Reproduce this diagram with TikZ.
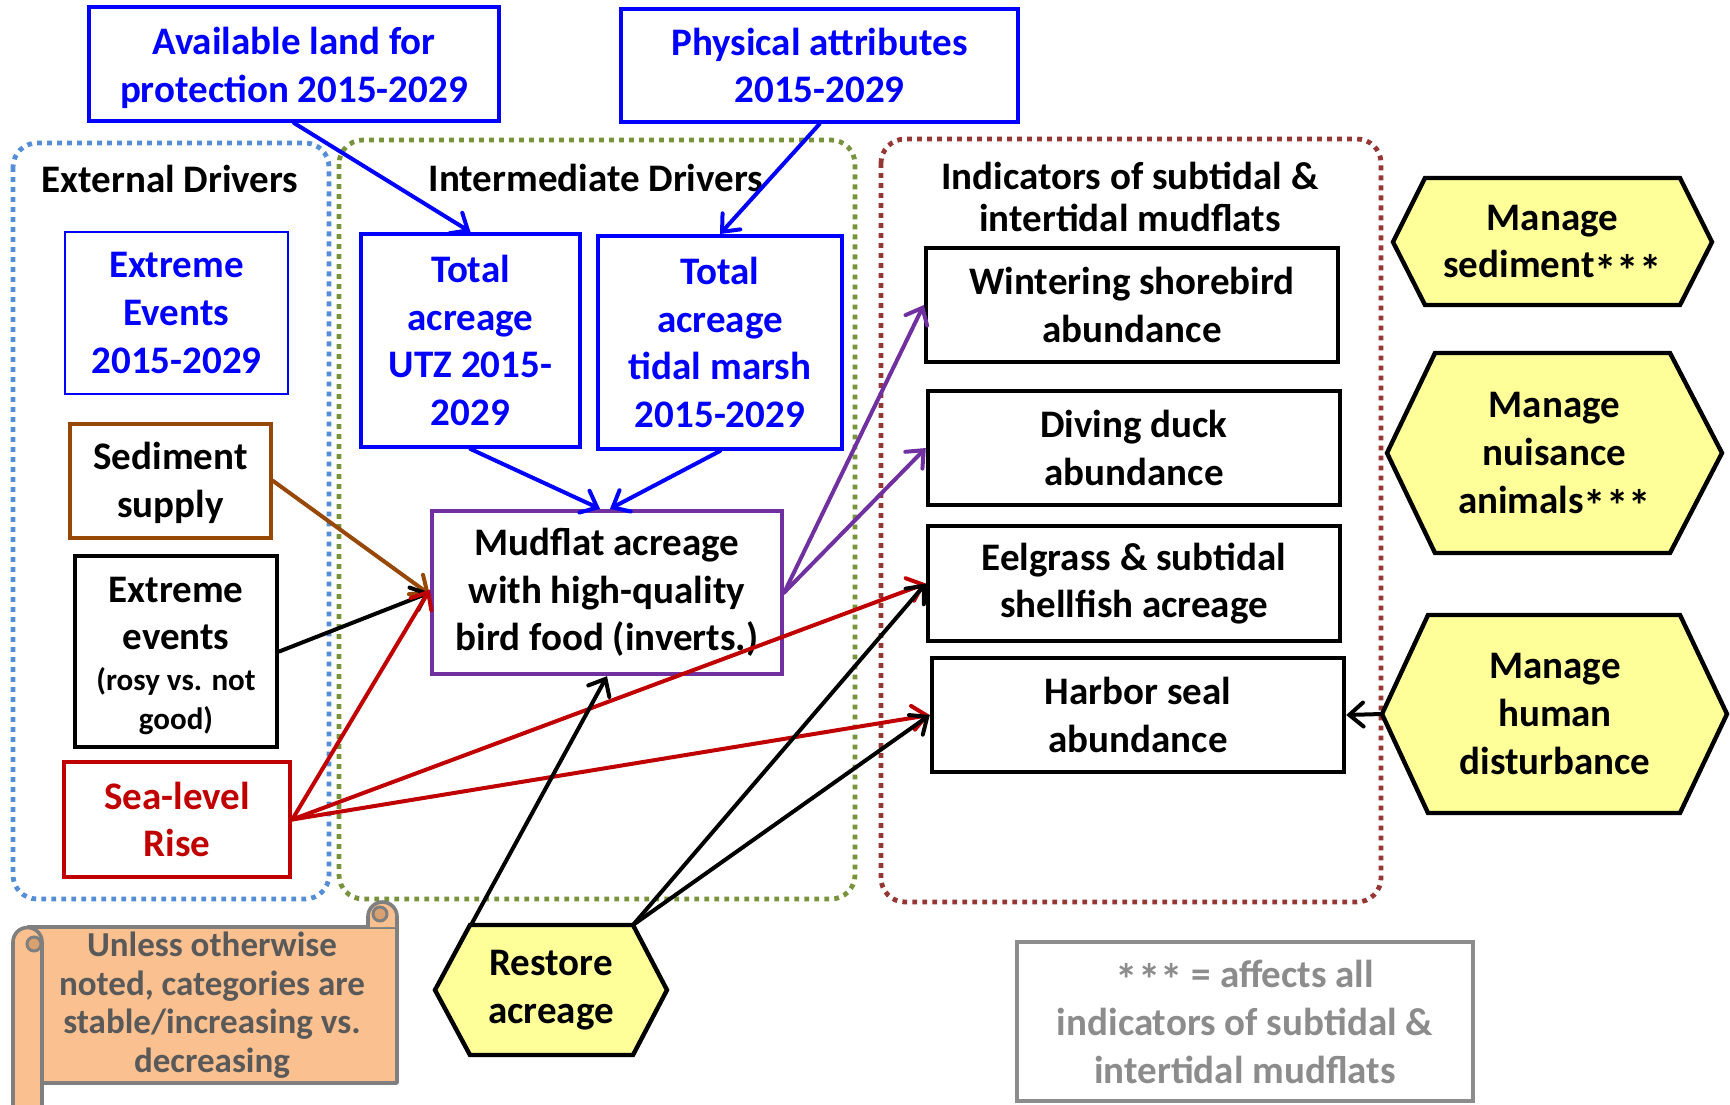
\documentclass[tikz,border=0pt]{standalone}
\usepackage{fontspec}
\setmainfont{Carlito}
\usetikzlibrary{arrows.meta}
\definecolor{cblue}{RGB}{0,0,255}
\definecolor{cbrown}{HTML}{974706}
\definecolor{cred}{HTML}{C00000}
\definecolor{cpurple}{HTML}{7030A0}
\definecolor{extdot}{HTML}{558ED5}
\definecolor{intdot}{HTML}{77933C}
\definecolor{inddot}{HTML}{953735}
\definecolor{hexyellow}{HTML}{FFFF99}
\definecolor{scrollfill}{HTML}{FAC090}
\definecolor{scrollcurl}{HTML}{D9A070}
\definecolor{scrollline}{HTML}{7F7F7F}
\definecolor{scrolltext}{HTML}{595959}
\definecolor{notegray}{HTML}{8C8C8C}
\newcommand{\stars}{\raisebox{-0.22em}[0pt][0pt]{\scalebox{1.15}{***}}}
\begin{document}
\begin{tikzpicture}[x=0.5pt,y=-0.5pt,
  lbl/.style={font=\bfseries\fontsize{19.5}{23.8}\selectfont, align=center, inner sep=0pt},
  box/.style={lbl, draw, fill=white, line width=2.2pt},
  bluebox/.style={box, draw=cblue, text=cblue, line width=2pt},
  grp/.style={line width=2.4pt, dash pattern=on 2.4pt off 2.6pt, rounded corners=12pt},
  conn/.style={line width=2pt, line cap=round, -{Straight Barb[length=7pt,width=12pt,line cap=round]}},
  hexa/.style={draw=black, fill=hexyellow, line width=2.2pt, line join=miter},
  scrollst/.style={draw=scrollline, fill=scrollfill, line width=1.8pt, line join=round}
]
\useasboundingbox (0,0) rectangle (1730,1104);

% groups
\draw[grp, draw=extdot] (13,143) rectangle (329,899);
\draw[grp, draw=intdot] (339,140) rectangle (855,899);
\draw[grp, draw=inddot] (881,139) rectangle (1381,902);

% group titles
\node[lbl] (tExt) at (170,179) {External Drivers};
\node[lbl] (tInt) at (596,178) {Intermediate Drivers};
\node[lbl, font=\bfseries\fontsize{19.5}{21}\selectfont] (tInd) at (1130,196.5) {Indicators of subtidal \&\\intertidal mudflats};

% top boxes
\node[bluebox, minimum width=205pt, minimum height=57pt] (avail) at (294,64) {};
\node[lbl, text=cblue] (availtxt) at (294,68) {Available land for\\protection 2015-2029};
\node[bluebox, minimum width=198.5pt, minimum height=56.5pt] (phys) at (819.5,65.5) {Physical attributes\\2015-2029};

% external drivers
\node[bluebox, line width=1pt, minimum width=111.5pt, minimum height=81pt] (extEv) at (176.5,313) {Extreme\\Events\\2015-2029};
\node[box, draw=cbrown, minimum width=100.5pt, minimum height=57pt] (sed) at (170.5,481) {};
\node[lbl] (sedtxt) at (170.5,483) {Sediment\\supply};
\node[box, minimum width=101pt, minimum height=95.5pt] (ext2) at (176,651.5) {};
\node[lbl] (ext2txt) at (176,656) {Extreme\\events\\[-3.3pt]\fontsize{15.5}{18.8}\selectfont (rosy vs. not\\[-4.4pt]\fontsize{15.5}{18.8}\selectfont good)};
\node[box, draw=cred, text=cred, minimum width=113pt, minimum height=57.5pt] (slr) at (177,819.5) {Sea-level\\Rise};

% intermediate drivers
\node[bluebox, minimum width=109.5pt, minimum height=106.5pt] (utz) at (470.5,340.5) {Total\\acreage\\UTZ 2015-\\2029};
\node[bluebox, minimum width=122pt, minimum height=106.5pt] (marsh) at (720,342.5) {Total\\acreage\\tidal marsh\\2015-2029};
\node[box, draw=cpurple, minimum width=175pt, minimum height=81.5pt] (mud) at (607,592.5) {Mudflat acreage\\with high-quality\\bird food (inverts.)};

% indicators
\node[box, minimum width=206pt, minimum height=57pt] (wint) at (1132,305) {Wintering shorebird\\abundance};
\node[box, minimum width=206pt, minimum height=57pt] (dive) at (1134,448) {Diving duck\\abundance};
\node[box, minimum width=206pt, minimum height=57.5pt] (eel) at (1134,583.5) {Eelgrass \& subtidal\\shellfish acreage};
\node[box, minimum width=206pt, minimum height=57pt] (harb) at (1138,715) {Harbor seal\\abundance};

% hexagons
\draw[hexa] (1393,242) -- (1425,178) -- (1680,178) -- (1712,242) -- (1680,305) -- (1425,305) -- cycle;
\node[lbl] (msed) at (1552.5,241.5) {Manage\\sediment\stars};
\draw[hexa] (1387,453) -- (1435,353) -- (1670,353) -- (1722,453) -- (1670,553) -- (1435,553) -- cycle;
\node[lbl] (mnuis) at (1554.5,453) {Manage\\nuisance\\animals\stars};
\draw[hexa] (1382,714) -- (1428,615) -- (1680,615) -- (1727,714) -- (1680,813) -- (1428,813) -- cycle;
\node[lbl] (mhum) at (1555,714) {Manage\\human\\disturbance};
\coordinate (humW) at (1382,714);
\draw[hexa] (435,990) -- (470,925) -- (633,925) -- (667,990) -- (633,1055) -- (470,1055) -- cycle;
\node[lbl] (rest) at (551,990) {Restore\\acreage};
\coordinate (restTL) at (471,925);
\coordinate (restTR) at (633,925);

% connectors
\draw[conn, cblue] (avail.south) -- (utz.north);
\draw[conn, cblue] (phys.south) -- (marsh.north);
\draw[conn, cblue] (utz.south) -- ([xshift=-3.5pt]mud.north);
\draw[conn, cblue] (marsh.south) -- ([xshift=1.5pt]mud.north);
\draw[conn, cbrown] (sed.east) -- ([yshift=-1pt]mud.west);
\draw[conn, black] (ext2.east) -- (mud.west);
\draw[conn, cred] (slr.east) -- ([yshift=1.5pt]mud.west);
\draw[conn, cred] (slr.east) -- (eel.west);
\draw[conn, cred] (slr.east) -- (harb.west);
\draw[conn, cpurple] (mud.east) -- (wint.west);
\draw[conn, cpurple] (mud.east) -- (dive.west);
\draw[conn, black] (restTL) -- (mud.south);
\draw[conn, black] (restTR) -- (eel.west);
\draw[conn, black] (restTR) -- (harb.west);
\draw[conn, black] (humW) -- (harb.east);

% scroll
\draw[scrollst] (28,927) rectangle (397,1083);
\draw[scrollst] (368,927) -- (368,916.5) arc[start angle=180,end angle=360,radius=14.5] -- (397,927);
\draw[draw=scrollline, fill=scrollcurl, line width=1.5pt] (380,914) circle[radius=7];
\draw[scrollst] (13,1120) -- (13,942) arc[start angle=180,end angle=360,radius=14.5] -- (42,1120);
\draw[draw=scrollline, fill=scrollcurl, line width=1.5pt] (34,944) circle[radius=7];
\node[lbl, text=scrolltext, font=\bfseries\fontsize{17.5}{19.3}\selectfont] (scrolltxt) at (212,1005) {Unless otherwise\\noted, categories are\\stable/increasing vs.\\decreasing};

% note
\node[box, draw=notegray, text=notegray, line width=2pt, minimum width=228pt, minimum height=79.5pt, font=\bfseries\fontsize{19.5}{24}\selectfont] (note) at (1245,1021.5) {\stars{} = affects all\\indicators of subtidal \&\\intertidal mudflats};
\end{tikzpicture}
\end{document}
